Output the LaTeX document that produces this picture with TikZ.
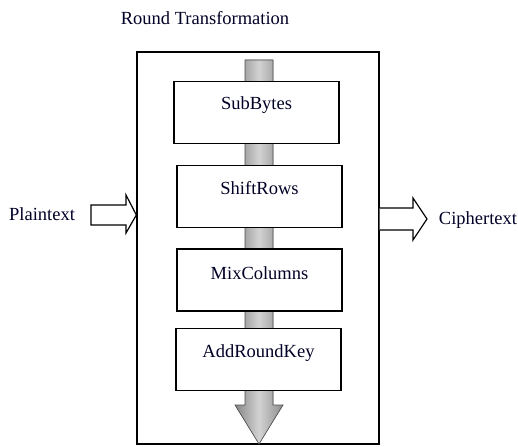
\documentclass[tikz,border=0pt]{standalone}
\usepackage{fontspec}
\setmainfont{Liberation Serif}
\usetikzlibrary{calc}
\begin{document}
\begin{tikzpicture}[x=1pt,y=-1pt,
  frame/.style={draw=black,line width=1.3pt,inner sep=0pt},
  stagebox/.style={draw=black,line width=1.3pt,inner sep=0pt,minimum width=165pt,minimum height=62pt},
  stagetext/.style={font=\fontsize{18.5}{22}\selectfont,text=black!85!blue,inner sep=0pt},
  sidetext/.style={font=\fontsize{18.5}{22}\selectfont,text=black!85!blue,inner sep=0pt},
  hollow/.style={draw=black,line width=1.2pt,fill=white,line join=miter},
  flow/.style={draw=gray!60!black,line width=0.6pt,left color=gray!95,right color=gray!90,middle color=gray!35}]
\useasboundingbox (0,0) rectangle (518,446);

% title
\node[sidetext] (title) at (205,18) {Round Transformation};

% outer frame of the round
\node[frame,minimum width=242pt,minimum height=392pt] (round) at (258,248) {};

% data flow through the round: shaft and head
\coordinate (flowtop) at (259,60);
\coordinate (flowtip) at (259,444);
\fill[flow] ($(flowtop)+(-14,0)$) -- ($(flowtop)+(14,0)$) -- (273,405) -- (283,405)
  -- (flowtip) -- (235,405) -- (245,405) -- cycle;

% the four stages
\node[stagebox,fill=white] (sb) at (256.5,112.5) {};
\node[stagebox,fill=white] (sr) at (259.5,196.5) {};
\node[stagebox,fill=white] (mc) at (259.5,280) {};
\node[stagebox,fill=white] (ark) at (258.5,359.5) {};
\node[stagetext] (sbt) at ([yshift=7pt]sb.center) {SubBytes};
\node[stagetext] (srt) at ([yshift=8pt]sr.center) {ShiftRows};
\node[stagetext] (mct) at ([yshift=7pt]mc.center) {MixColumns};
\node[stagetext] (arkt) at ([yshift=6pt]ark.center) {AddRoundKey};

% input and output
\node[sidetext] (pt) at (42,214) {Plaintext};
\node[sidetext] (ct) at (478,220) {Ciphertext};

% hollow arrow into the round
\coordinate (inTip) at (round.west |- 0,215);
\draw[hollow] (91,205) -- (126,205) -- (126,195) -- (inTip) -- (126,233) -- (126,225) -- (91,225) -- cycle;

% hollow arrow out of the round
\coordinate (outTail) at (round.east |- 0,219);
\draw[hollow] (outTail) ++(0,-11) -- (413,208) -- (413,198) -- (427,219) -- (413,240) -- (413,230) -- ($(outTail)+(0,11)$);
\end{tikzpicture}
\end{document}
